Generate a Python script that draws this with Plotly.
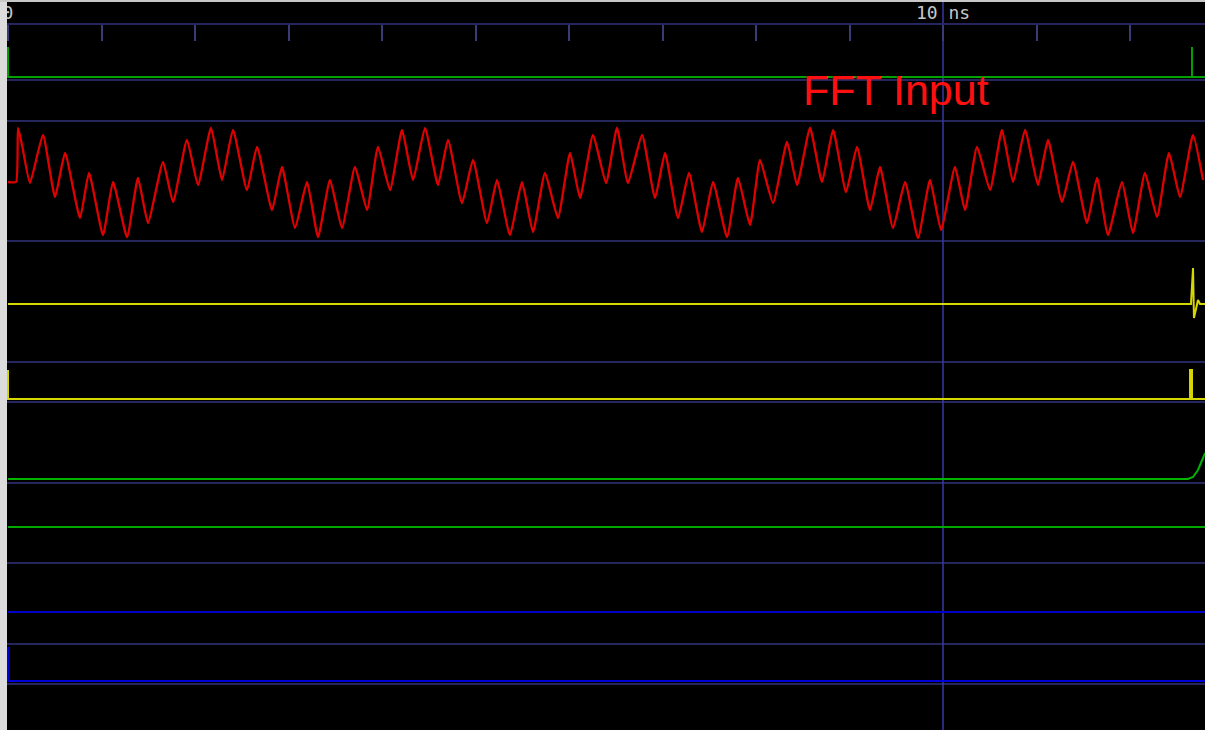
import plotly.graph_objects as go

W, H = 1205, 730
PX_PER_NS = 93.5
X0_PX = 8

# ---- data ----
ruler_ticks_ns = list(range(0, 13))
ruler_labels = ["0", "", "", "", "", "", "", "", "", "", "10 ns", "", ""]
cursor_ns = 10.0

clk_t = [0, 0, 12.663, 12.663, 12.663, 12.81]
clk_v = [1, 0, 0, 1, 0, 0]

fft_t = [0.000, 0.086, 0.107, 0.150, 0.235, 0.374, 0.503, 0.610, 0.770, 0.866,
         1.016, 1.123, 1.273, 1.390, 1.497, 1.658, 1.765, 1.914, 2.032, 2.171,
         2.289, 2.406, 2.556, 2.663, 2.824, 2.930, 3.070, 3.198, 3.316, 3.444,
         3.572, 3.711, 3.840, 3.957, 4.086, 4.214, 4.332, 4.460, 4.599, 4.706,
         4.856, 4.973, 5.123, 5.230, 5.369, 5.497, 5.615, 5.743, 5.882, 6.011,
         6.118, 6.257, 6.396, 6.513, 6.631, 6.781, 6.920, 7.027, 7.166, 7.283,
         7.422, 7.540, 7.690, 7.807, 7.936, 8.043, 8.182, 8.332, 8.439, 8.578,
         8.706, 8.824, 8.963, 9.080, 9.219, 9.326, 9.465, 9.594, 9.733, 9.861,
         9.979, 10.128, 10.235, 10.364, 10.503, 10.631, 10.749, 10.877, 11.016, 11.123,
         11.273, 11.390, 11.540, 11.647, 11.765, 11.914, 12.032, 12.160, 12.289, 12.417,
         12.535, 12.674, 12.781]
fft_v = [1, 1, 55, 38, 0, 48, -14, 30, -35, 10,
         -52, 1, -54, 5, -40, 21, -19, 43, -2, 55,
         3, 53, -7, 36, -27, 16, -45, 1, -54, 3,
         -45, 16, -27, 36, -7, 53, 3, 55, -2, 43,
         -20, 23, -40, 3, -52, 1, -49, 10, -35, 30,
         -15, 48, 0, 55, 0, 48, -15, 30, -35, 10,
         -49, 1, -54, 5, -42, 23, -20, 41, -2, 55,
         1, 53, -9, 36, -27, 16, -45, 1, -55, 3,
         -47, 16, -27, 36, -7, 53, 1, 53, -2, 43,
         -19, 21, -40, 5, -52, 1, -50, 10, -34, 30,
         -14, 48, 3]

fft_out_t = [0, 12.652, 12.674, 12.684, 12.706, 12.727, 12.749, 12.81]
fft_out_v = [0, 0, 36, -14, -5, 4, 0, 0]

valid_t = [0, 0, 12.642, 12.642, 12.663, 12.663, 12.81]
valid_v = [1, 0, 0, 1, 1, 0, 0]

mag_t = [0, 12.620, 12.674, 12.727, 12.781, 12.802]
mag_v = [0, 0, 2, 9, 21, 26]

flat_t = [0, 12.81]
flat_v = [0, 0]

idx_t = [0, 0, 12.81]
idx_v = [1, 0, 0]

# ---- layout helpers ----
def py(px):
    return 1 - px / H

rows = {}  # axis name -> (top_px, bottom_px, zero_px, px_per_unit)
rows["y"] = (24, 80, 77, 30)
rows["y2"] = (121, 241, 183, 1)
rows["y3"] = (241, 362, 304, 1)
rows["y4"] = (362, 402, 399, 29)
rows["y5"] = (402, 483, 479, 1)
rows["y6"] = (483, 563, 527, 30)
rows["y7"] = (563, 644, 612, 30)
rows["y8"] = (644, 684, 681, 34)

fig = go.Figure()

def add(t, v, ax, color, width=2, shape="linear"):
    fig.add_trace(go.Scatter(x=t, y=v, mode="lines", yaxis=ax,
                             line=dict(color=color, width=width, shape=shape,
                                       smoothing=0.45 if shape == "spline" else None),
                             hoverinfo="skip", showlegend=False))

add(clk_t, clk_v, "y", "#00a000")
add(fft_t, fft_v, "y2", "#e00000", 2.3, "spline")
add(fft_out_t, fft_out_v, "y3", "#d6d600")
add(valid_t, valid_v, "y4", "#d6d600")
add(mag_t, mag_v, "y5", "#00b400")
add(flat_t, flat_v, "y6", "#00a800")
add(flat_t, flat_v, "y7", "#0000cc")
add(idx_t, idx_v, "y8", "#0000d8")

layout = dict(
    width=W, height=H,
    margin=dict(l=0, r=0, t=0, b=0),
    paper_bgcolor="#000000", plot_bgcolor="#000000",
    showlegend=False,
    xaxis=dict(
        range=[(0 - X0_PX) / PX_PER_NS, (W - X0_PX) / PX_PER_NS],
        anchor="free", position=py(24), side="top",
        showgrid=False, zeroline=False,
        showline=True, linecolor="#26265e", linewidth=2,
        ticks="inside", ticklen=16, tickwidth=1.5, tickcolor="#3a3a78",
        tickvals=ruler_ticks_ns, ticktext=ruler_labels,
        ticklabelstandoff=-3,
        tickfont=dict(family="DejaVu Sans Mono", size=18, color="#c8c8c8"),
        fixedrange=True,
    ),
)
for name, (top, bot, zero, ppu) in rows.items():
    key = "yaxis" if name == "y" else "yaxis" + name[1:]
    layout[key] = dict(
        domain=[py(bot), py(top)],
        range=[(zero - bot) / ppu, (zero - top) / ppu],
        visible=False, showgrid=False, zeroline=False, fixedrange=True,
        anchor="x",
    )
fig.update_layout(**layout)

# row separators
sep_px = [80, 121, 241, 362, 402, 483, 563, 644, 684]
for s in sep_px:
    fig.add_shape(type="line", xref="paper", yref="paper", x0=0, x1=1,
                  y0=py(s), y1=py(s), line=dict(color="#26265e", width=2),
                  layer="below")

# cursor
fig.add_shape(type="line", xref="x", yref="paper", x0=cursor_ns, x1=cursor_ns,
              y0=0, y1=1, line=dict(color="#3838a4", width=1.5), layer="below")

# window frame
fig.add_shape(type="rect", xref="paper", yref="paper", x0=0, x1=7 / W, y0=0, y1=1,
              fillcolor="#dcdcdc", line=dict(width=0), layer="above")
fig.add_shape(type="rect", xref="paper", yref="paper", x0=0, x1=1, y0=py(2), y1=1,
              fillcolor="#c8c8c8", line=dict(width=0), layer="above")

fig.add_annotation(text="FFT Input", xref="paper", yref="paper",
                   x=801 / W, y=py(90), xanchor="left", yanchor="middle",
                   showarrow=False,
                   font=dict(family="Liberation Sans", size=43, color="#ff1010"))

fig.write_html("out.html", config={"displayModeBar": False},
               post_script="document.body.style.margin='0';document.body.style.overflow='hidden';")
